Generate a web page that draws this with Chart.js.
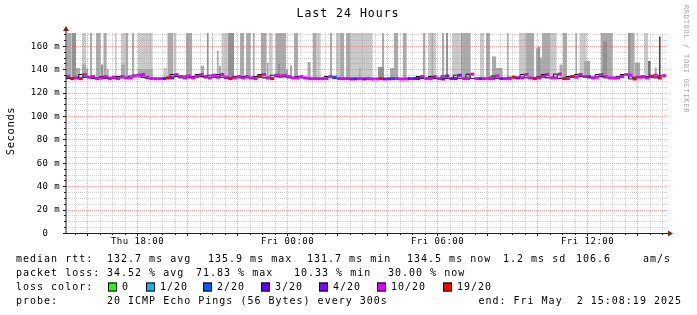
<!DOCTYPE html>
<html><head><meta charset="utf-8">
<script src="https://cdn.jsdelivr.net/npm/chart.js@4/dist/chart.umd.min.js"></script>
<style>html,body{margin:0;padding:0;background:#fff}canvas{display:block}</style>
</head><body>
<canvas id="c" width="697" height="315"></canvas>
<script>
// ================= DATA =================
// time is expressed in hours since Thu 00:00; the graph covers 24 h ending Fri 15:08:19
const startHour = 15.1386;
const endHour = 39.1386;
const stepHours = 1 / 6;           // one median sample every 10 minutes

// median round-trip time (ms), one value per step
const medianMs = [
  133.8,132.0,132.6,132.0,135.5,133.2,133.8,132.0,132.6,133.8,132.0,133.2,
  132.0,133.8,132.6,132.6,134.3,134.9,135.5,133.2,132.0,132.0,132.0,132.0,
  132.6,132.6,135.5,133.8,132.6,134.3,132.6,133.8,135.5,133.8,132.6,134.9,
  133.2,135.5,133.2,132.0,132.6,133.8,132.6,133.8,132.6,132.0,133.8,135.5,
  132.6,132.0,134.9,133.8,134.9,133.8,132.6,132.6,133.8,132.6,132.0,132.0,
  132.0,132.0,132.0,133.8,133.2,132.0,132.0,132.0,131.7,131.8,132.0,131.7,
  132.0,131.7,131.7,132.0,131.7,131.8,132.0,132.0,131.7,131.7,132.0,132.0,
  132.0,133.8,132.0,132.0,133.8,132.0,131.7,134.3,132.0,132.0,134.9,132.0,
  132.0,135.8,132.0,132.0,132.0,132.0,132.0,134.3,132.0,132.0,132.0,133.2,
  132.6,132.6,135.5,132.6,132.0,132.6,133.8,135.5,132.6,132.6,135.9,132.0,
  132.0,133.8,133.2,135.5,133.8,133.8,132.6,133.2,135.5,133.8,132.6,132.6,
  132.6,133.8,135.5,134.9,131.7,133.2,133.8,132.6,133.8,134.9,132.6,134.5
];
// lost pings out of 20, one value per step
const lossCount = [
  7,14,7,14,7,7,7,7,6,7,7,7,
  7,7,7,8,7,7,7,7,6,7,7,4,
  14,4,7,7,7,7,7,8,7,7,7,7,
  7,7,7,14,7,7,7,7,7,7,14,7,
  7,14,7,7,7,6,7,7,7,7,7,7,
  7,7,7,7,2,7,7,7,4,4,7,4,
  7,7,7,14,4,4,2,7,7,7,4,4,
  3,7,7,7,7,7,4,4,4,4,4,7,
  7,7,7,4,7,7,7,7,4,7,7,14,
  4,7,7,7,14,7,7,7,7,7,7,14,
  7,14,7,7,7,4,7,7,7,7,7,7,
  7,7,7,7,14,7,7,7,14,7,14,6
];

// smoke: [start hour, end hour, upper rtt ms] grouped by ping density (1 = sparse ... 5 = dense)
const smokeD1 = [
  [15.78,15.94,171],[17.09,17.17,171],[17.33,17.51,171],[18.02,18.61,171],[19.03,19.19,141],
  [19.43,19.56,171],[20.98,21.03,171],[21.35,21.62,171],[23.25,23.41,171],[25.17,25.33,171],
  [25.94,26.10,171],[26.53,27.41,171],[29.62,29.94,171],[30.58,30.93,171],[31.70,31.86,171],
  [33.25,33.54,171],[34.50,34.77,171],[35.67,35.97,171],[38.26,38.42,171]
];
const smokeD2 = [
  [15.17,15.35,171],[15.54,15.70,141],[15.78,15.94,144],[15.94,16.02,140.6],[16.10,16.18,171],
  [16.34,16.53,171],[16.63,16.77,171],[16.77,16.85,140],[17.33,17.51,144],[17.51,17.62,171],
  [17.78,17.86,171],[18.02,18.61,140],[19.19,19.43,171],[19.94,20.18,171],[20.54,20.66,143],
  [21.17,21.25,156],[21.25,21.35,143],[22.10,22.26,171],[22.34,22.53,171],[22.61,22.69,171],
  [22.93,23.17,171],[23.17,23.25,145.5],[23.51,23.94,171],[23.94,24.02,140],[24.10,24.18,143.5],
  [24.26,24.42,171],[24.79,24.93,146.3],[25.01,25.17,171],[25.70,25.78,171],[26.10,26.26,171],
  [26.34,26.53,171],[26.85,26.93,141],[27.78,27.86,171],[28.10,28.26,141],[28.26,28.42,171],
  [28.61,28.77,171],[29.41,29.51,171],[29.75,29.83,171],[30.18,30.26,171],[31.01,31.33,171],
  [31.94,32.10,171],[32.18,32.34,151],[32.34,32.61,141],[32.77,32.85,171],[33.54,33.86,171],
  [33.94,34.02,158],[34.10,34.18,150],[34.18,34.50,171],[34.87,35.01,144],[35.01,35.19,171],
  [35.51,35.59,171],[35.86,36.10,147],[36.53,37.01,171],[37.62,37.89,171],[37.89,38.10,145.7],
  [38.69,38.77,141.5]
];
const smokeD3 = [
  [15.35,15.54,171],[16.53,16.63,144],[20.77,20.85,171],[21.62,21.86,171],[23.62,23.70,145],
  [27.62,27.86,142],[30.34,30.42,171],[30.93,31.01,171],[34.02,34.10,159],[36.61,36.79,164],
  [37.62,37.72,171]
];
const smokeD4 = [[38.42,38.53,147]];
const smokeD5 = [[38.85,38.93,168]];
const smokeFloorMs = 132.5;

// axes
const yMax = 171;
const yTickValues = [0,20,40,60,80,100,120,140,160];
const yMinorStep = 5;
const xMinorStepHours = 0.5;
const xMajorStepHours = 2;
const xTickHours = [18,24,30,36];
const xTickLabels = ['Thu 18:00','Fri 00:00','Fri 06:00','Fri 12:00'];

// texts
const titleText = 'Last 24 Hours';
const yAxisTitle = 'Seconds';
const watermark = 'RRDTOOL / TOBI OETIKER';
const rttLabel = 'median rtt:';
const rttStats = ['132.7 ms avg','135.9 ms max','131.7 ms min','134.5 ms now','1.2 ms sd','106.6','am/s'];
const lossLabel = 'packet loss:';
const lossStats = ['34.52 % avg','71.83 % max','10.33 % min','30.00 % now'];
const lossColorLabel = 'loss color:';
const lossThresholds = [0,1,2,3,4,10,19];
const lossLegend = ['0','1/20','2/20','3/20','4/20','10/20','19/20'];
const probeLabel = 'probe:';
const probeText = '20 ICMP Echo Pings (56 Bytes) every 300s';
const endText = 'end: Fri May  2 15:08:19 2025';

// ================= STYLE =================
const lossColors = ['#26ff00','#00b8ff','#0059ff','#5e00ff','#7e00ff','#dd00ff','#ff0000'];
const smokeShades = ['#c9c9c9','#aaaaaa','#929292','#6e6e6e','#4a4a4a'];
const MONO = '"DejaVu Sans Mono", monospace';
const rttX = [107,208,307,407,503,576,643];
const lossX = [107,196,294,388];
const boxX = [108,146,203,261,319,377,443];

function lossColor(n){
  for (let i = 0; i < lossThresholds.length; i++) if (n <= lossThresholds[i]) return lossColors[i];
  return lossColors[lossColors.length-1];
}

function smokePoints(list){
  const pts = [];
  list.forEach(([s,e,top]) => { pts.push({x:s,y:top},{x:e,y:top},{x:e,y:null}); });
  return pts;
}

const smokeSets = [smokeD1, smokeD2, smokeD3, smokeD4, smokeD5];
const datasets = smokeSets.map((set, i) => ({
  type: 'line',
  data: smokePoints(set),
  borderWidth: 0,
  pointRadius: 0,
  backgroundColor: smokeShades[i],
  fill: {value: smokeFloorMs},
  spanGaps: false,
  order: 20 - i
}));

const stepPts = medianMs.map((m,i) => ({x: startHour + i*stepHours, y: m}));
stepPts.push({x: endHour, y: medianMs[medianMs.length-1]});
datasets.push({
  type: 'line', data: stepPts, stepped: 'after', borderColor: '#111', borderWidth: 1,
  pointRadius: 0, fill: false, order: 2
});

const bandPts = [];
medianMs.forEach((m,i) => { const t = startHour + i*stepHours; bandPts.push({x:t,y:m},{x:t+stepHours,y:m}); });
datasets.push({
  type: 'line', data: bandPts, borderWidth: 3, pointRadius: 0, fill: false, order: 1,
  borderCapStyle: 'butt',
  segment: {
    borderColor: c => Math.abs(c.p0.parsed.x - c.p1.parsed.x) < 1e-9 ? 'rgba(0,0,0,0)'
                      : lossColor(lossCount[Math.floor(c.p0DataIndex/2)])
  }
});

function txt(ctx, s, x, y, size, spacing, align, color){
  ctx.font = size + 'px ' + MONO;
  ctx.letterSpacing = spacing + 'px';
  ctx.textAlign = align || 'left';
  ctx.textBaseline = 'middle';
  ctx.fillStyle = color || '#000';
  ctx.fillText(s, x, y);
}

const rrdPlugin = {
  id: 'rrd',
  beforeDraw(chart){
    const ctx = chart.ctx;
    ctx.save(); ctx.fillStyle = '#fff'; ctx.fillRect(0,0,chart.width,chart.height); ctx.restore();
  },
  afterDatasetsDraw(chart){
    const {ctx, chartArea: a} = chart;
    const xs = chart.scales.x, ys = chart.scales.y;
    ctx.save();
    ctx.lineWidth = 1;
    ctx.setLineDash([1,1]);
    // vertical grid
    for (let h = Math.ceil(startHour / xMinorStepHours) * xMinorStepHours; h < endHour; h += xMinorStepHours) {
      const px = Math.floor(xs.getPixelForValue(h)) + 0.5;
      const major = Math.abs(h / xMajorStepHours - Math.round(h / xMajorStepHours)) < 1e-6;
      ctx.strokeStyle = major ? 'rgba(222,79,79,0.5)' : 'rgba(143,143,143,0.4)';
      ctx.beginPath(); ctx.moveTo(px, a.top); ctx.lineTo(px, a.bottom); ctx.stroke();
    }
    // horizontal grid
    for (let v = yMinorStep; v <= yMax; v += yMinorStep) {
      const py = Math.round(ys.getPixelForValue(v)) + 0.5;
      const major = v % 20 === 0;
      ctx.strokeStyle = major ? 'rgba(222,79,79,0.5)' : 'rgba(143,143,143,0.4)';
      ctx.beginPath(); ctx.moveTo(a.left, py); ctx.lineTo(a.right + 2, py); ctx.stroke();
    }
    ctx.setLineDash([]);
    // ticks
    ctx.strokeStyle = '#1f1f1f';
    for (let v = 0; v <= yMax; v += yMinorStep) {
      const py = Math.round(ys.getPixelForValue(v)) + 0.5;
      const len = v % 20 === 0 ? 3 : 2;
      ctx.beginPath(); ctx.moveTo(a.left - len, py); ctx.lineTo(a.left, py); ctx.stroke();
    }
    for (let h = Math.ceil(startHour / xMinorStepHours) * xMinorStepHours; h < endHour; h += xMinorStepHours) {
      const px = Math.floor(xs.getPixelForValue(h)) + 0.5;
      const major = Math.abs(h / xMajorStepHours - Math.round(h / xMajorStepHours)) < 1e-6;
      ctx.beginPath(); ctx.moveTo(px, a.bottom); ctx.lineTo(px, a.bottom + (major ? 3 : 2)); ctx.stroke();
    }
    // axes
    ctx.strokeStyle = '#1f1f1f';
    ctx.beginPath(); ctx.moveTo(a.left, a.bottom + 1); ctx.lineTo(a.left, a.top - 3); ctx.stroke();
    ctx.beginPath(); ctx.moveTo(a.left - 3, a.bottom + 0.5); ctx.lineTo(a.right + 3, a.bottom + 0.5); ctx.stroke();
    // arrows
    ctx.fillStyle = '#801f1f';
    ctx.beginPath(); ctx.moveTo(a.left - 3, a.top - 2); ctx.lineTo(a.left + 3, a.top - 2); ctx.lineTo(a.left, a.top - 7); ctx.closePath(); ctx.fill();
    ctx.beginPath(); ctx.moveTo(a.right + 2, a.bottom - 2.5); ctx.lineTo(a.right + 2, a.bottom + 3.5); ctx.lineTo(a.right + 7, a.bottom + 0.5); ctx.closePath(); ctx.fill();

    // y tick labels
    yTickValues.forEach(v => {
      const py = ys.getPixelForValue(v) + 0.5;
      txt(ctx, String(v), 48.5, py, 9, 0.5, 'right');
      if (v !== 0) txt(ctx, 'm', 54.3, py, 9, 0.5, 'left');
    });
    // x tick labels
    xTickHours.forEach((h,i) => {
      txt(ctx, xTickLabels[i], xs.getPixelForValue(h), 241.5, 9, 0.5, 'center');
    });
    // title
    txt(ctx, titleText, 348, 14, 11.5, 1, 'center');
    // y axis title
    ctx.save(); ctx.translate(11, 131); ctx.rotate(-Math.PI/2);
    txt(ctx, yAxisTitle, 0, 0, 10.5, 0.6, 'center'); ctx.restore();
    // watermark
    ctx.save(); ctx.translate(686, 59); ctx.rotate(Math.PI/2);
    txt(ctx, watermark, 0, 0, 7, 0.7, 'center', '#a8a8a8'); ctx.restore();

    // legend
    txt(ctx, rttLabel, 16, 259, 10, 1);
    rttStats.forEach((s,i) => txt(ctx, s, rttX[i], 259, 10, 1));
    txt(ctx, lossLabel, 16, 273, 10, 1);
    lossStats.forEach((s,i) => txt(ctx, s, lossX[i], 273, 10, 1));
    txt(ctx, lossColorLabel, 16, 287, 10, 1);
    lossLegend.forEach((s,i) => {
      ctx.fillStyle = lossColors[i];
      ctx.fillRect(boxX[i], 282.5, 9, 9);
      ctx.strokeStyle = '#000'; ctx.lineWidth = 1;
      ctx.strokeRect(boxX[i] + 0.5, 283, 8, 8);
      txt(ctx, s, boxX[i] + 14, 287, 10, 1);
    });
    txt(ctx, probeLabel, 16, 301, 10, 1);
    txt(ctx, probeText, 107, 301, 10, 1);
    txt(ctx, endText, 682, 301, 10, 1, 'right');
    ctx.restore();
  }
};

new Chart(document.getElementById('c'), {
  type: 'line',
  data: { datasets },
  options: {
    responsive: false,
    animation: false,
    events: [],
    layout: { padding: { left: 66, top: 33, right: 31, bottom: 82 } },
    plugins: { legend: { display: false }, tooltip: { enabled: false } },
    scales: {
      x: { type: 'linear', min: startHour, max: endHour, display: false },
      y: { type: 'linear', min: 0, max: yMax, display: false }
    }
  },
  plugins: [rrdPlugin]
});
</script>
</body></html>
